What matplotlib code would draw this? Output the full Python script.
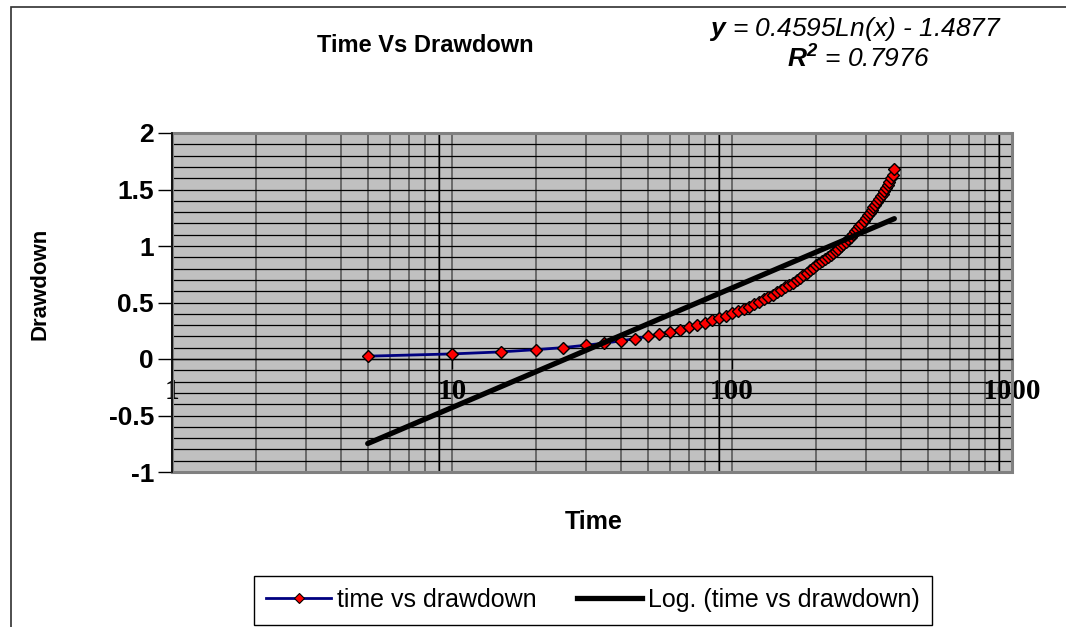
import numpy as np
import matplotlib
matplotlib.use("Agg")
import matplotlib.pyplot as plt
from matplotlib.lines import Line2D
from matplotlib.patches import Rectangle
from matplotlib.ticker import LogLocator, NullFormatter, FixedLocator, FixedFormatter

plt.rcParams['font.family'] = ['Liberation Sans', 'DejaVu Sans']
plt.rcParams['mathtext.fontset'] = 'custom'
plt.rcParams['mathtext.rm'] = 'Liberation Sans'
plt.rcParams['mathtext.it'] = 'Liberation Sans:italic'
plt.rcParams['mathtext.bf'] = 'Liberation Sans:bold:italic'

# ---------------- data ----------------
time = [5, 10, 15, 20, 25, 30, 35, 40, 45, 50, 55, 60, 65, 70, 75, 80, 85, 90, 95, 100,
        105, 110, 115, 120, 125, 130, 135, 140, 145, 150, 155, 160, 165, 170, 175, 180,
        185, 190, 195, 200, 205, 210, 215, 220, 225, 230, 235, 240, 245, 250, 255, 260,
        265, 270, 275, 280, 285, 290, 295, 300, 305, 310, 315, 320, 325, 330, 335, 340,
        345, 350, 355, 360, 365, 370, 375, 380]
drawdown = [0.025, 0.045, 0.063, 0.083, 0.101, 0.122, 0.140, 0.160, 0.180, 0.200,
            0.221, 0.242, 0.260, 0.279, 0.300, 0.321, 0.342, 0.362, 0.383, 0.403,
            0.423, 0.443, 0.463, 0.484, 0.505, 0.527, 0.548, 0.570, 0.591, 0.612,
            0.633, 0.655, 0.676, 0.698, 0.719, 0.742, 0.764, 0.786, 0.808, 0.828,
            0.848, 0.868, 0.886, 0.905, 0.922, 0.940, 0.958, 0.976, 0.996, 1.016,
            1.038, 1.060, 1.083, 1.106, 1.129, 1.152, 1.175, 1.199, 1.222, 1.246,
            1.270, 1.293, 1.317, 1.341, 1.365, 1.390, 1.414, 1.439, 1.464, 1.490,
            1.516, 1.543, 1.570, 1.598, 1.627, 1.680]
trend_slope = 0.4595
trend_intercept = -1.4877
r_squared = 0.7976

y_ticks = [-1, -0.5, 0, 0.5, 1, 1.5, 2]
y_tick_labels = ['-1', '-0.5', '0', '0.5', '1', '1.5', '2']
x_ticks = [1, 10, 100, 1000]
x_tick_labels = ['1', '10', '100', '1000']

title = 'Time Vs Drawdown'
x_label = 'Time'
y_label = 'Drawdown'
series_name = 'time vs drawdown'
trend_name = 'Log. (time vs drawdown)'

# ---------------- figure ----------------
W, H = 1066, 627
fig = plt.figure(figsize=(W / 100, H / 100), dpi=100)
fig.patch.set_facecolor('white')

# chart area border
fig.add_artist(Rectangle((11 / W, -0.2), 1.3, (1 - 7 / H) + 0.2, transform=fig.transFigure,
                         fill=False, edgecolor='#303030', lw=1.2))

L, R, T, B = 172, 1012, 133, 472
ax = fig.add_axes([L / W, 1 - B / H, (R - L) / W, (B - T) / H])
ax.set_facecolor('#C0C0C0')
ax.set_xscale('log')
ax.set_xlim(1, 1000)
ax.set_ylim(-1, 2)

# ticks (set styles first, then labels)
ax.tick_params(axis='y', which='major', direction='out', length=10, width=1, color='black', pad=3)
ax.tick_params(axis='y', which='minor', length=0)
ax.tick_params(axis='x', which='major', direction='out', length=7, width=1, color='black', pad=7)
ax.tick_params(axis='x', which='minor', length=0)

ax.yaxis.set_major_locator(FixedLocator(y_ticks))
ax.yaxis.set_major_formatter(FixedFormatter(y_tick_labels))
ax.yaxis.set_minor_locator(FixedLocator(np.arange(-1, 2.001, 0.1)))
ax.xaxis.set_major_locator(FixedLocator(x_ticks))
ax.xaxis.set_major_formatter(FixedFormatter(x_tick_labels))
ax.xaxis.set_minor_locator(LogLocator(base=10, subs=range(2, 10)))
ax.xaxis.set_minor_formatter(NullFormatter())

# grid lines
ax.yaxis.grid(True, which='both', color='black', lw=0.9)
ax.xaxis.grid(True, which='both', color='#5a5a5a', lw=1.2)
for xv in [9, 90, 900]:
    ax.axvline(xv, color='black', lw=1.0, zorder=0.6)
ax.set_axisbelow(True)

for s in ['top', 'right']:
    ax.spines[s].set_visible(False)
ax.spines['bottom'].set_position(('data', 0))
ax.spines['bottom'].set_color('black')
ax.spines['bottom'].set_linewidth(1)
ax.spines['left'].set_color('black')
ax.spines['left'].set_linewidth(1.2)
ax.add_patch(Rectangle((0, 0), 1, 1, transform=ax.transAxes, fill=False,
                       edgecolor='#808080', lw=2.2, clip_on=False, zorder=2.5))

# series
ax.plot(time, drawdown, color='#000080', lw=2, marker='D', ms=6, mfc='red',
        mec='black', mew=1, zorder=3)
tt = np.geomspace(time[0], time[-1], 200)
ax.plot(tt, trend_slope * np.log(tt) + trend_intercept, color='black', lw=3.8,
        solid_capstyle='round', zorder=4)

# texts
fig.text(425 / W, 1 - 45 / H, title, ha='center', va='center', fontsize=17, fontweight='bold')
fig.text(856 / W, 1 - 29 / H,
         r'$\mathbf{y}$' + ' = %.4fLn(x) - %.4f' % (trend_slope, -trend_intercept),
         ha='center', va='center', fontsize=19, fontstyle='italic')
fig.text(858 / W, 1 - 59 / H, r'$\mathbf{R}^\mathbf{2}$' + ' = %.4f' % r_squared,
         ha='center', va='center', fontsize=19, fontstyle='italic')
fig.text(40 / W, 1 - 284 / H, y_label, rotation=90, ha='center', va='center',
         fontsize=16, fontweight='bold')
fig.text(594 / W, 1 - 522 / H, x_label, ha='center', va='center', fontsize=18, fontweight='bold')

# legend
handles = [Line2D([], [], color='#000080', lw=2, marker='D', ms=5, mfc='red', mec='black', mew=0.8),
           Line2D([], [], color='black', lw=3.8)]
leg = fig.legend(handles, [series_name, trend_name], loc='center',
                 bbox_to_anchor=(593 / W, 1 - 600 / H), ncol=2, fontsize=18,
                 frameon=True, fancybox=False, edgecolor='black', framealpha=1,
                 handlelength=2.6, handletextpad=0.25, columnspacing=1.6,
                 borderpad=0.5, borderaxespad=0)
leg.get_frame().set_linewidth(1)

# tick label fonts
for tick in ax.yaxis.get_major_ticks():
    tick.label1.set_fontsize(19)
    tick.label1.set_fontweight('bold')
for tick in ax.xaxis.get_major_ticks():
    tick.label1.set_fontsize(21)
    tick.label1.set_fontweight('bold')
    tick.label1.set_fontfamily('Liberation Serif')

fig.savefig('out.png', dpi=100)
